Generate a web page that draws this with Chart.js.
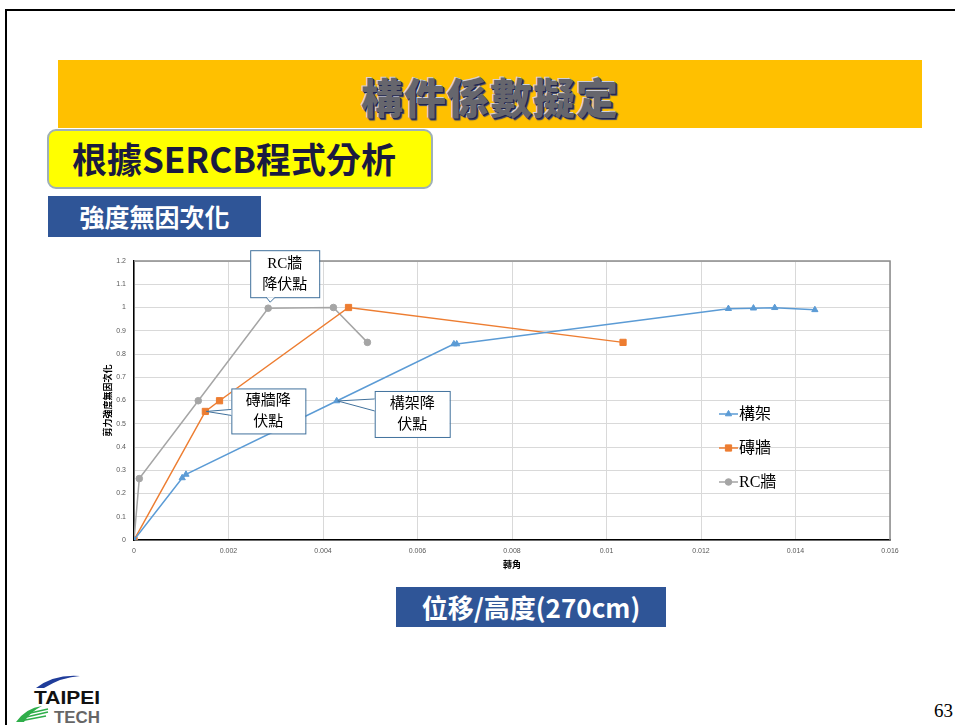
<!DOCTYPE html>
<html>
<head>
<meta charset="utf-8">
<script src="https://cdn.jsdelivr.net/npm/chart.js@4"></script>
<style>
  html, body { margin: 0; padding: 0; background: #fff; }
  #slide { position: relative; width: 955px; height: 725px; overflow: hidden; background: #fff;
           font-family: "Noto Sans CJK TC", "Noto Sans", sans-serif; }
  .frame-top { position: absolute; left: 5px; top: 9px; width: 960px; height: 2px; background: #000; }
  .frame-left { position: absolute; left: 5px; top: 9px; width: 2px; height: 730px; background: #000; }
  .banner { position: absolute; left: 58px; top: 60px; width: 864px; height: 68px; background: #FFC000; }
  .banner span { position: absolute; left: 0; right: 0; top: 5px; text-align: center;
                 font-size: 42px; font-weight: 900; color: #66666d; letter-spacing: 1px;
                 text-shadow: 1px 1px 0 #1c2350, -1px -1px 0 #d0d0d8, 2px 2px 1px #3a3f6a; }
  .method { position: absolute; left: 47px; top: 129px; width: 386px; height: 60px; background: #FFFF00;
            border: 2px solid #9fb0b8; border-radius: 9px; box-sizing: border-box; }
  .method span { position: absolute; left: 23px; top: 1px; font-size: 35px; font-weight: 700; color: #1a1a40; white-space: nowrap; }
  .tag { position: absolute; background: #2F5597; color: #fff; font-weight: 700; white-space: nowrap; text-align: center; }
  .tag1 { left: 48px; top: 196px; width: 213px; height: 41px; font-size: 25px; line-height: 40px; }
  .tag2 { left: 396px; top: 587px; width: 270px; height: 40px; font-size: 26px; line-height: 39px; }
  .pageno { position: absolute; left: 934px; top: 700px; font-family: "Liberation Serif", serif; font-size: 19px; color: #000; }
  #logo { position: absolute; left: 12px; top: 668px; }
  #chart { position: absolute; left: 0; top: 0; }
</style>
</head>
<body>
<div id="slide">
  <div class="frame-top"></div>
  <div class="frame-left"></div>
  <div class="banner"><span>構件係數擬定</span></div>
  <div class="method"><span>根據SERCB程式分析</span></div>
  <div class="tag tag1">強度無因次化</div>
  <div class="tag tag2">位移/高度(270cm)</div>
  <svg id="logo" width="100" height="57" viewBox="0 0 100 57">
    <path d="M24 20 Q42 6 68 8 Q50 9 32 20 Z" fill="#1f3c9a"/>
    <text x="22" y="36" font-family="Liberation Sans, Arial, sans-serif" font-weight="700" font-size="19" fill="#111" textLength="66" lengthAdjust="spacingAndGlyphs">TAIPEI</text>
    <text x="42" y="55" font-family="Liberation Sans, Arial, sans-serif" font-weight="700" font-size="17" fill="#666" textLength="46" lengthAdjust="spacingAndGlyphs">TECH</text>
    <path d="M4 54 Q14 40 30 38 Q18 44 12 54 Z" fill="#2fae4a"/>
    <path d="M10 50 L36 44 M8 53 L34 48 M14 46 L36 41" stroke="#2fae4a" stroke-width="1.6"/>
  </svg>
  <div class="pageno">63</div>
  <canvas id="chart" width="955" height="725"></canvas>
</div>

<script>
// Drift ratio (displacement / height) for each series
const frameX = [0, 0.00102, 0.00110, 0.00429, 0.00677, 0.00683, 0.01258, 0.01311, 0.01356, 0.01441];
const frameY = [0, 0.267, 0.282, 0.598, 0.843, 0.843, 0.995, 0.997, 0.999, 0.990];

const brickX = [0, 0.00151, 0.00181, 0.00454, 0.01035];
const brickY = [0, 0.553, 0.599, 1.000, 0.850];

const rcX = [0, 0.000112, 0.00136, 0.00284, 0.00422, 0.00494];
const rcY = [0, 0.264, 0.599, 0.997, 1.000, 0.850];

const seriesNames = ['構架', '磚牆', 'RC牆'];
const seriesColors = ['#5B9BD5', '#ED7D31', '#A5A5A5'];
const seriesMarkers = ['triangle', 'rect', 'circle'];

// Axis ticks
const xTicks = [0, 0.002, 0.004, 0.006, 0.008, 0.010, 0.012, 0.014, 0.016];
const xTickLabels = ['0', '0.002', '0.004', '0.006', '0.008', '0.01', '0.012', '0.014', '0.016'];
const yTicks = [0, 0.1, 0.2, 0.3, 0.4, 0.5, 0.6, 0.7, 0.8, 0.9, 1.0, 1.1, 1.2];
const yTickLabels = ['0', '0.1', '0.2', '0.3', '0.4', '0.5', '0.6', '0.7', '0.8', '0.9', '1', '1.1', '1.2'];

// Yield point annotations: [series index, point index, text lines]
const yieldNotes = [
  { series: 2, point: 3, lines: ['RC牆', '降伏點'] },
  { series: 1, point: 1, lines: ['磚牆降', '伏點'] },
  { series: 0, point: 3, lines: ['構架降', '伏點'] }
];

const toPoints = (xs, ys) => xs.map((x, i) => ({ x: x, y: ys[i] }));
const seriesData = [toPoints(frameX, frameY), toPoints(brickX, brickY), toPoints(rcX, rcY)];
const markerRadius = [3.6, 4.4, 3.3];

const serifFont = '"Liberation Serif", "Noto Sans CJK TC", serif';

// Plot frame: gray top/right edges
const frameEdges = {
  id: 'frameEdges',
  beforeDatasetsDraw(chart) {
    const { ctx, chartArea: a } = chart;
    ctx.save();
    ctx.strokeStyle = '#8c8c8c';
    ctx.lineWidth = 1.5;
    ctx.beginPath();
    ctx.moveTo(a.left, a.top);
    ctx.lineTo(a.right, a.top);
    ctx.lineTo(a.right, a.bottom);
    ctx.stroke();
    ctx.restore();
  }
};

// Callout boxes pointing at the yield points
const callouts = {
  id: 'callouts',
  afterDatasetsDraw(chart) {
    const { ctx } = chart;
    const xs = chart.scales.x, ys = chart.scales.y;
    ctx.save();
    ctx.font = '15px ' + serifFont;
    ctx.textAlign = 'center';
    ctx.textBaseline = 'middle';
    yieldNotes.forEach((note, k) => {
      const p = seriesData[note.series][note.point];
      const tx = xs.getPixelForValue(p.x), ty = ys.getPixelForValue(p.y);
      let box, wedge;
      if (k === 0) {
        // box above the point, wedge on the bottom edge
        box = { l: tx - 18, t: ty - 58, w: 69, h: 47 };
        const b = box.t + box.h;
        wedge = [[tx - 2, b], [tx + 2, ty - 6], [tx + 7, b]];
      } else if (k === 1) {
        box = { l: tx + 26, t: ty - 23, w: 74, h: 45 };
        wedge = [[box.l, ty - 2], [tx + 1, ty], [box.l, ty + 4]];
      } else {
        box = { l: tx + 38, t: ty - 10, w: 75, h: 46 };
        wedge = [[box.l, ty - 2], [tx + 1, ty], [box.l, ty + 10]];
      }
      ctx.fillStyle = '#ffffff';
      ctx.fillRect(box.l, box.t, box.w, box.h);
      ctx.strokeStyle = '#41719C';
      ctx.lineWidth = 1;
      ctx.strokeRect(box.l + 0.5, box.t + 0.5, box.w, box.h);
      // wedge: fill white over the edge, then outline the two sides
      ctx.beginPath();
      ctx.moveTo(wedge[0][0], wedge[0][1]);
      ctx.lineTo(wedge[1][0], wedge[1][1]);
      ctx.lineTo(wedge[2][0], wedge[2][1]);
      ctx.closePath();
      ctx.fill();
      ctx.beginPath();
      ctx.moveTo(wedge[0][0], wedge[0][1]);
      ctx.lineTo(wedge[1][0], wedge[1][1]);
      ctx.lineTo(wedge[2][0], wedge[2][1]);
      ctx.stroke();
      ctx.fillStyle = '#000';
      const cx = box.l + box.w / 2;
      ctx.fillText(note.lines[0], cx, box.t + box.h / 2 - 10);
      ctx.fillText(note.lines[1], cx, box.t + box.h / 2 + 11);
    });
    ctx.restore();
  }
};

// Legend drawn inside the plot area
const sideLegend = {
  id: 'sideLegend',
  afterDraw(chart) {
    const { ctx } = chart;
    const x0 = 719, rows = [414, 448, 482];
    ctx.save();
    chart.data.datasets.forEach((ds, i) => {
      const y = rows[i];
      ctx.strokeStyle = ds.borderColor;
      ctx.lineWidth = 1.5;
      ctx.beginPath();
      ctx.moveTo(x0, y);
      ctx.lineTo(x0 + 19, y);
      ctx.stroke();
      ctx.fillStyle = ds.backgroundColor;
      ctx.strokeStyle = ds.borderColor;
      ctx.lineWidth = 1;
      Chart.helpers.drawPoint(ctx, { pointStyle: ds.pointStyle, radius: ds.pointRadius, borderWidth: 1 }, x0 + 9.5, y);
      ctx.fillStyle = '#000';
      ctx.font = '16px ' + serifFont;
      ctx.textBaseline = 'middle';
      ctx.textAlign = 'left';
      ctx.fillText(ds.label, x0 + 20, y + 1);
    });
    ctx.restore();
  }
};

new Chart(document.getElementById('chart'), {
  type: 'scatter',
  data: {
    datasets: seriesData.map((pts, i) => ({
      label: seriesNames[i],
      data: pts,
      showLine: true,
      borderColor: seriesColors[i],
      backgroundColor: seriesColors[i],
      borderWidth: 1.5,
      pointStyle: seriesMarkers[i],
      pointRadius: markerRadius[i],
      pointBorderWidth: 1,
      tension: 0
    }))
  },
  options: {
    responsive: false,
    animation: false,
    devicePixelRatio: 1,
    layout: { padding: { left: 102, top: 261, right: 65, bottom: 155 } },
    plugins: {
      legend: { display: false },
      tooltip: { enabled: false }
    },
    scales: {
      x: {
        type: 'linear',
        min: 0, max: 0.016,
        afterBuildTicks(scale) { scale.ticks = xTicks.map(v => ({ value: v })); },
        afterFit(scale) { scale.height = 30; },
        ticks: {
          padding: 7,
          color: '#595959',
          font: { size: 7, family: 'Liberation Sans, Arial, sans-serif' },
          maxRotation: 0,
          callback: (v, i) => xTickLabels[i]
        },
        grid: { color: '#d9d9d9', lineWidth: 1, drawTicks: false },
        border: { color: '#000', width: 1.5 },
        title: {
          display: true, text: '轉角', color: '#000', padding: 0,
          font: { size: 9, weight: 'bold', family: 'Noto Sans CJK TC' }
        }
      },
      y: {
        type: 'linear',
        min: 0, max: 1.2,
        afterBuildTicks(scale) { scale.ticks = yTicks.map(v => ({ value: v })); },
        afterFit(scale) { scale.width = 32; },
        ticks: {
          padding: 8,
          color: '#595959',
          font: { size: 7, family: 'Liberation Sans, Arial, sans-serif' },
          callback: (v, i) => yTickLabels[i]
        },
        grid: { color: '#d9d9d9', lineWidth: 1, drawTicks: false },
        border: { color: '#000', width: 1.5 },
        title: {
          display: true, text: '剪力強度無因次化', color: '#000', padding: 0,
          font: { size: 9, weight: 'bold', family: 'Noto Sans CJK TC' }
        }
      }
    }
  },
  plugins: [frameEdges, callouts, sideLegend]
});
</script>
</body>
</html>
